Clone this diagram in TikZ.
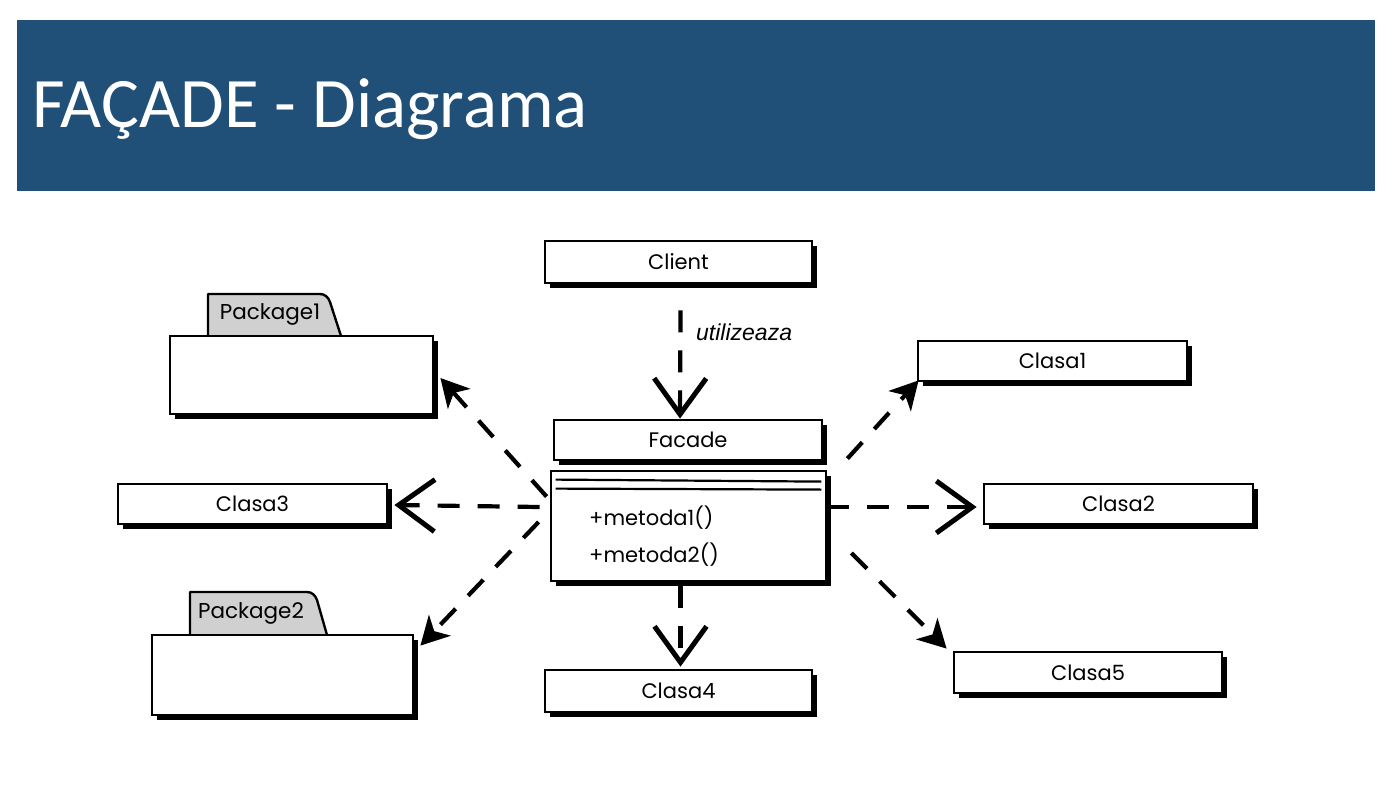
\documentclass[tikz,border=0pt]{standalone}
\usepackage{fontspec}
\setmainfont{Poppins}
\newfontfamily\titlefont{Carlito}
\newfontfamily\labelfont{Liberation Sans}
\usetikzlibrary{arrows.meta,shadows,calc}
\definecolor{banner}{HTML}{204F78}
\definecolor{tabgray}{HTML}{D0D0D0}
\begin{document}
\begin{tikzpicture}[x=1pt,y=-1pt,
  cls/.style={draw, line width=2.8pt, fill=white, inner sep=0pt,
    font=\fontsize{21}{24}\selectfont,
    drop shadow={shadow xshift=4.5pt, shadow yshift=-4.5pt, opacity=1, fill=black}},
  pkgtab/.style={draw, line width=2.4pt, fill=tabgray, line join=round},
  tablabel/.style={inner sep=0pt, font=\fontsize{21.5}{24}\selectfont},
  meth/.style={anchor=west, inner sep=0pt, font=\fontsize{21}{24}\selectfont},
  dep/.style={line width=4.2pt, dash pattern=on 22pt off 18pt},
  openhead/.style={-{Straight Barb[length=36pt,width=52pt,line width=5pt]}},
  fillhead/.style={-{Stealth[length=28pt,width=30pt,inset=8pt]}}]
\useasboundingbox (0,0) rectangle (1395,787);
\fill[white] (0,0) rectangle (1395,787);
% banner
\fill[banner] (17,20) rectangle (1375,191);
\node[anchor=base west, inner sep=0pt, text=white, font=\titlefont\fontsize{71}{80}\selectfont] (title) at (32,127) {FAÇADE - Diagrama};

% package tabs
\path (170,336) coordinate (p1nw) (152,635) coordinate (p2nw);
\draw[pkgtab] ($(p1nw)+(38,0)$) -- ($(p1nw)+(38,-42)$) -- ($(p1nw)+(150,-42)$)
   to[out=0,in=110] ($(p1nw)+(160,-34)$) -- ($(p1nw)+(171,0)$);
\node[tablabel] (p1lbl) at ($(p1nw)+(100,-22)$) {Package1};
\draw[pkgtab] ($(p2nw)+(38,0)$) -- ($(p2nw)+(38,-43)$) -- ($(p2nw)+(155,-43)$)
   to[out=0,in=110] ($(p2nw)+(165,-35)$) -- ($(p2nw)+(175,0)$);
\node[tablabel] (p2lbl) at ($(p2nw)+(99,-22)$) {Package2};

% boxes
\node[cls, minimum width=263pt, minimum height=78pt] (p1) at (301.5,375) {};
\node[cls, minimum width=261pt, minimum height=80pt] (p2) at (282.5,675) {};
\node[cls, minimum width=267pt, minimum height=42pt] (client) at (678.5,262) {Client};
\node[cls, minimum width=268pt, minimum height=40pt] (fh) at (688,440) {Facade};
\node[cls, minimum width=275pt, minimum height=110pt] (fb) at (688.5,526) {};
\draw[line width=2.2pt] ($(fb.north west)+(6,10)$) -- ($(fb.north east)+(-6,12)$);
\draw[line width=2.2pt] ($(fb.north west)+(6,19)$) -- ($(fb.north east)+(-6,20)$);
\node[meth] (m1) at (589,518) {+metoda1()};
\node[meth] (m2) at (589,555) {+metoda2()};
\node[cls, minimum width=269pt, minimum height=40pt] (c1) at (1052.5,361) {Clasa1};
\node[cls, minimum width=269pt, minimum height=40pt] (c3) at (252.5,504) {Clasa3};
\node[cls, minimum width=269pt, minimum height=40pt] (c2) at (1118.5,504) {Clasa2};
\node[cls, minimum width=267pt, minimum height=42pt] (c4) at (678.5,691) {Clasa4};
\node[cls, minimum width=268pt, minimum height=41pt] (c5) at (1088,672.5) {Clasa5};

% connectors
\draw[dep, openhead] ($(client.south)+(2,26)$) -- ($(fh.north)+(-8,0)$);
\node[anchor=west, inner sep=0pt, font=\labelfont\itshape\fontsize{23}{26}\selectfont] (uses) at (696,332) {utilizeaza};
\draw[dep, fillhead] ($(fb.north west)+(-3,27)$) -- ($(p1.east)+(6,3)$);
\draw[dep, openhead] ($(fb.west)+(-10,-19)$) -- ($(c3.east)+(6,1)$);
\draw[dep, fillhead] ($(fb.west)+(-11,-4)$) -- ($(p2.north east)+(6,12)$);
\draw[dep, openhead] ($(fb.south)+(-8,4)$) -- ($(c4.north)+(2,-2)$);
\draw[dep, fillhead] ($(fb.east)+(24,27)$) -- ($(c5.north west)+(-6,-2)$);
\draw[dep, openhead] ($(fb.east)+(0,-19)$) -- ($(c2.west)+(-6,3)$);
\draw[dep, fillhead] ($(fb.north east)+(20,-11)$) -- ($(c1.south west)+(2,-2)$);
\end{tikzpicture}
\end{document}
